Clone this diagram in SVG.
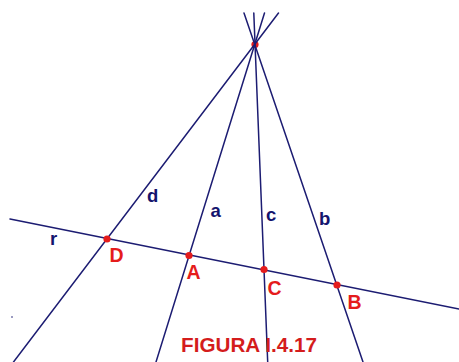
<svg xmlns="http://www.w3.org/2000/svg" width="459" height="362" viewBox="0 0 459 362">
<style>
.ln{stroke:#1c1c72;stroke-width:1.5;fill:none;stroke-linecap:round}
.pt{fill:#e51c1c}
.lbl{font-family:"Liberation Sans",Arial,sans-serif;font-weight:bold;font-size:18.5px;fill:#14146e}
.plbl{font-family:"Liberation Sans",Arial,sans-serif;font-weight:bold;font-size:19.5px;fill:#e51c1c}
.cap{font-family:"Liberation Sans",Arial,sans-serif;font-weight:bold;font-size:21px;fill:#d41c1c}
</style>
<rect width="459" height="362" fill="#ffffff"/>
<g id="P"><circle class="pt" cx="255" cy="44.5" r="3.6"/></g>
<g id="connectors">
<line id="line-r" class="ln" x1="10" y1="219" x2="459" y2="309"/>
<line id="line-d" class="ln" x1="278.5" y1="13" x2="13.5" y2="362"/>
<line id="line-a" class="ln" x1="264.5" y1="13" x2="156" y2="362"/>
<line id="line-c" class="ln" x1="253.8" y1="13" x2="267.7" y2="362"/>
<line id="line-b" class="ln" x1="244" y1="13" x2="363" y2="362"/>
</g>
<g id="label-r"><text class="lbl" x="50" y="245">r</text></g>
<g id="label-d"><text class="lbl" x="147" y="202">d</text></g>
<g id="label-a"><text class="lbl" x="210.5" y="217">a</text></g>
<g id="label-c"><text class="lbl" x="266" y="221">c</text></g>
<g id="label-b"><text class="lbl" x="319" y="225">b</text></g>
<g id="D"><circle class="pt" cx="107" cy="239" r="3.6"/><text class="plbl" x="109.5" y="262">D</text></g>
<g id="A"><circle class="pt" cx="189" cy="255.5" r="3.6"/><text class="plbl" x="186.5" y="278.5">A</text></g>
<g id="C"><circle class="pt" cx="264" cy="269.5" r="3.6"/><text class="plbl" x="267.5" y="295">C</text></g>
<g id="B"><circle class="pt" cx="337" cy="285" r="3.6"/><text class="plbl" x="347.5" y="308.5">B</text></g>
<g id="caption"><text class="cap" x="181" y="351.5" textLength="136" lengthAdjust="spacingAndGlyphs">FIGURA I.4.17</text></g>
<circle cx="12" cy="317" r="0.8" fill="#1c1c72"/>
</svg>
